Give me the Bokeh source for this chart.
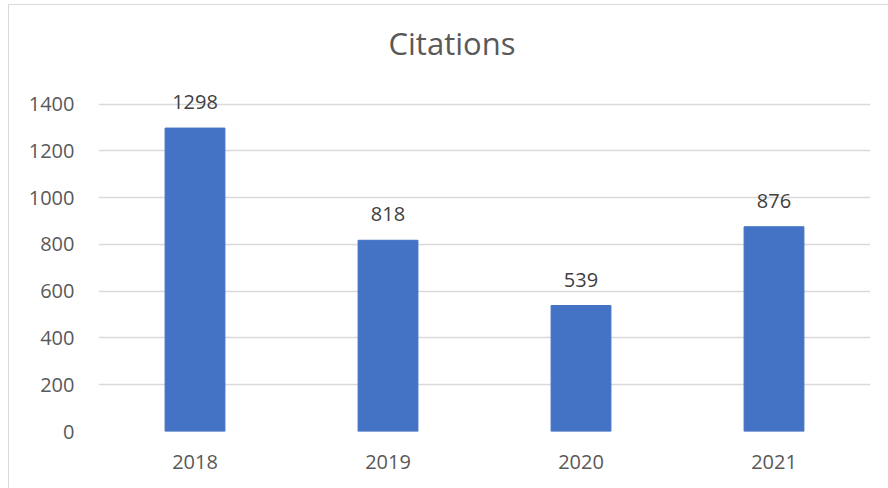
from bokeh.plotting import figure
from bokeh.models import ColumnDataSource, Range1d, FixedTicker
from bokeh.core.properties import value
from bokeh.embed import file_html
from bokeh.resources import INLINE

years = ["2018", "2019", "2020", "2021"]
citations = [1298, 818, 539, 876]
y_ticks = [0, 200, 400, 600, 800, 1000, 1200, 1400]

FONT = "Open Sans"
TXT = "#595959"
GRID = "#d9d9d9"

src = ColumnDataSource(dict(year=years, cit=citations, lbl=[str(c) for c in citations]))

p = figure(x_range=years, y_range=Range1d(0, 1540), width=880, height=484,
           output_backend="svg", toolbar_location=None,
           min_border_left=89, min_border_right=19, min_border_top=66, min_border_bottom=58)
p.margin = (4, 0, 0, 8)
p.styles = {"border-left": "1px solid #d9d9d9", "border-top": "1px solid #d9d9d9"}

p.title.text = "Citations"
p.title.align = "left"
p.title.text_font = FONT
p.title.text_font_size = "31px"
p.title.text_font_style = "normal"
p.title.text_color = TXT
p.title.offset = 290
p.title.standoff = 15

p.vbar(x="year", top="cit", width=0.31, source=src, color="#4472C4")
p.text(x="year", y="cit", text="lbl", source=src, text_align="center",
       text_baseline="alphabetic", y_offset=-26, text_font=value(FONT),
       text_font_size="20px", text_color="#404040")

p.outline_line_color = None
p.xgrid.grid_line_color = None
p.ygrid.grid_line_color = GRID
p.ygrid.grid_line_width = 1.5
p.yaxis.ticker = FixedTicker(ticks=y_ticks)

for ax in (p.xaxis, p.yaxis):
    ax.axis_line_color = None
    ax.major_tick_line_color = None
    ax.minor_tick_line_color = None
    ax.major_tick_out = 0
    ax.major_tick_in = 0
    ax.major_label_text_font = FONT
    ax.major_label_text_font_size = "20px"
    ax.major_label_text_color = TXT

p.xaxis.major_label_standoff = 23
p.yaxis.major_label_standoff = 24
p.x_range.range_padding = 0

open("out.html", "w").write(file_html(p, INLINE))
